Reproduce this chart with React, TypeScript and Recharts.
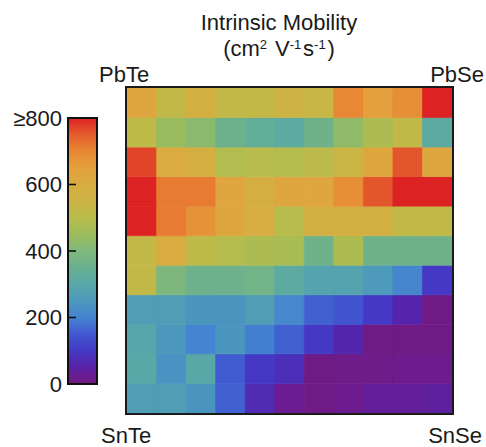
import React from 'react';
import { BarChart, Bar, XAxis, YAxis, Cell } from 'recharts';

// Se fraction across (PbTe/SnTe -> PbSe/SnSe), Sn fraction down (Pb -> Sn)
const seFraction = ['0', '0.1', '0.2', '0.3', '0.4', '0.5', '0.6', '0.7', '0.8', '0.9', '1'];
const snFraction = ['0', '0.1', '0.2', '0.3', '0.4', '0.5', '0.6', '0.7', '0.8', '0.9', '1'];

// intrinsic mobility (cm2 V-1 s-1), one array per row, top (PbTe-PbSe) to bottom (SnTe-SnSe)
const sn00 = [630, 525, 580, 525, 525, 555, 540, 700, 650, 685, 800];
const sn10 = [515, 445, 420, 360, 335, 315, 365, 430, 480, 520, 315];
const sn20 = [770, 605, 585, 490, 500, 495, 510, 545, 620, 755, 625];
const sn30 = [800, 715, 715, 630, 585, 625, 625, 685, 755, 800, 800];
const sn40 = [800, 715, 680, 620, 590, 500, 580, 580, 580, 525, 525];
const sn50 = [525, 600, 515, 495, 480, 475, 365, 480, 365, 365, 365];
const sn60 = [525, 395, 360, 360, 370, 315, 285, 285, 255, 205, 100];
const sn70 = [265, 265, 245, 240, 270, 210, 160, 145, 100, 55, 5];
const sn80 = [295, 250, 200, 245, 195, 160, 100, 60, 5, 5, 5];
const sn90 = [300, 235, 300, 155, 100, 80, 5, 15, 15, 20, 20];
const sn100 = [270, 265, 240, 160, 70, 25, 5, 20, 35, 35, 40];
const mobilityRows = [sn00, sn10, sn20, sn30, sn40, sn50, sn60, sn70, sn80, sn90, sn100];

// colour scale
const cmapValues = [0, 25, 50, 100, 150, 200, 250, 300, 350, 400, 450, 500, 550, 600, 650, 700, 750, 800];
const cmapColors = ['#721B82', '#6A1C90', '#5822A8', '#4438C4', '#4058D0', '#4484D0', '#4C98BC', '#58A8A8',
    '#68B090', '#80B87C', '#9CBC5C', '#B8BC4C', '#CCB444', '#D8AC40', '#E4A03C', '#E88834', '#E45C2C', '#DC2222'];
const cbarTicks = [0, 200, 400, 600, 800];
const cbarMax = 800;

const FONT = '"Liberation Sans", Arial, sans-serif';
const W = 486;
const H = 447;
const gridMargin = { top: 88, right: 34, bottom: 34, left: 127 };
const cbarMargin = { top: 118, right: 13, bottom: 63, left: 0 };

const hexToRgb = (h: string) => [1, 3, 5].map((i) => parseInt(h.slice(i, i + 2), 16));

const colorFor = (v: number) => {
    const val = Math.max(0, Math.min(cbarMax, v));
    let i = 0;
    while (i < cmapValues.length - 2 && val > cmapValues[i + 1]) i++;
    const t = (val - cmapValues[i]) / (cmapValues[i + 1] - cmapValues[i]);
    const a = hexToRgb(cmapColors[i]);
    const b = hexToRgb(cmapColors[i + 1]);
    const c = a.map((x, k) => Math.round(x + (b[k] - x) * t));
    return `rgb(${c[0]},${c[1]},${c[2]})`;
};

// each column is a stack of unit-height cells, one per Sn row
const gridData = seFraction.map((se) => {
    const d: Record<string, string | number> = { se };
    snFraction.forEach((_, ri) => { d[`r${ri}`] = 1; });
    return d;
});

const cbarData = [{ name: 'scale', v: cbarMax }];

const CbarTick = (props: any) => {
    const { x, y, payload } = props;
    const v = payload.value;
    const inner = v !== 0 && v !== cbarMax;
    return (
        <g>
            <text x={x - 6} y={y} dy="0.35em" textAnchor="end" fontSize={22} fontFamily={FONT} fill="#1a1a1a">
                {v === cbarMax ? `≥${v}` : v}
            </text>
            {inner && <line x1={x} x2={x + 8} y1={y} y2={y} stroke="#111" strokeWidth={1.6} />}
        </g>
    );
};

const Sup = ({ children }: { children: string }) => (
    <>
        <tspan dy={-7} fontSize={13}>{children}</tspan>
        <tspan dy={7} fontSize={22}>{'\u200A'}</tspan>
    </>
);

export default function App() {
    const plotW = W - gridMargin.left - gridMargin.right;
    const plotH = H - gridMargin.top - gridMargin.bottom;
    const textProps = { fontFamily: FONT, fontSize: 22, fill: '#1a1a1a' };

    return (
        <div style={{ position: 'absolute', left: 0, top: 0, width: W, height: H, background: '#fff' }}>
            <svg width={0} height={0} style={{ position: 'absolute' }}>
                <defs>
                    <linearGradient id="cbarGrad" x1="0" y1="1" x2="0" y2="0">
                        {cmapValues.map((v, i) => (
                            <stop key={v} offset={v / cbarMax} stopColor={cmapColors[i]} />
                        ))}
                    </linearGradient>
                </defs>
            </svg>

            <div style={{ position: 'absolute', left: 0, top: 0 }}>
                <BarChart width={W} height={H} data={gridData} margin={gridMargin} barCategoryGap={0} barGap={0}>
                    <XAxis dataKey="se" hide />
                    <YAxis type="number" domain={[0, snFraction.length]} hide />
                    {snFraction.map((_, k) => {
                        const ri = snFraction.length - 1 - k;
                        return (
                            <Bar key={ri} dataKey={`r${ri}`} stackId="grid" isAnimationActive={false}>
                                {seFraction.map((se, ci) => {
                                    const c = colorFor(mobilityRows[ri][ci]);
                                    return <Cell key={se} fill={c} stroke={c} strokeWidth={0.6} />;
                                })}
                            </Bar>
                        );
                    })}
                </BarChart>
            </div>

            <div style={{ position: 'absolute', left: 0, top: 0 }}>
                <BarChart width={110} height={H} data={cbarData} margin={cbarMargin} barCategoryGap={0}>
                    <XAxis dataKey="name" hide />
                    <YAxis
                        type="number"
                        domain={[0, cbarMax]}
                        ticks={cbarTicks}
                        width={68}
                        axisLine={false}
                        tickLine={false}
                        tickSize={0}
                        tickMargin={0}
                        tick={<CbarTick />}
                        interval={0}
                    />
                    <Bar dataKey="v" fill="url(#cbarGrad)" stroke="#111" strokeWidth={2} isAnimationActive={false} />
                </BarChart>
            </div>

            <svg width={W} height={H} style={{ position: 'absolute', left: 0, top: 0, pointerEvents: 'none' }}>
                <rect
                    x={gridMargin.left - 1}
                    y={gridMargin.top - 1}
                    width={plotW + 2}
                    height={plotH + 2}
                    fill="none"
                    stroke="#1a1a1a"
                    strokeWidth={2}
                />
                <text x={279} y={30} textAnchor="middle" {...textProps}>Intrinsic Mobility</text>
                <text x={279} y={56} textAnchor="middle" {...textProps}>
                    (cm<Sup>2</Sup> V<Sup>-1</Sup>s<Sup>-1</Sup>)
                </text>
                <text x={99} y={82} {...textProps}>PbTe</text>
                <text x={484} y={82} textAnchor="end" {...textProps}>PbSe</text>
                <text x={101} y={443} {...textProps}>SnTe</text>
                <text x={482} y={443} textAnchor="end" {...textProps}>SnSe</text>
            </svg>
        </div>
    );
}
